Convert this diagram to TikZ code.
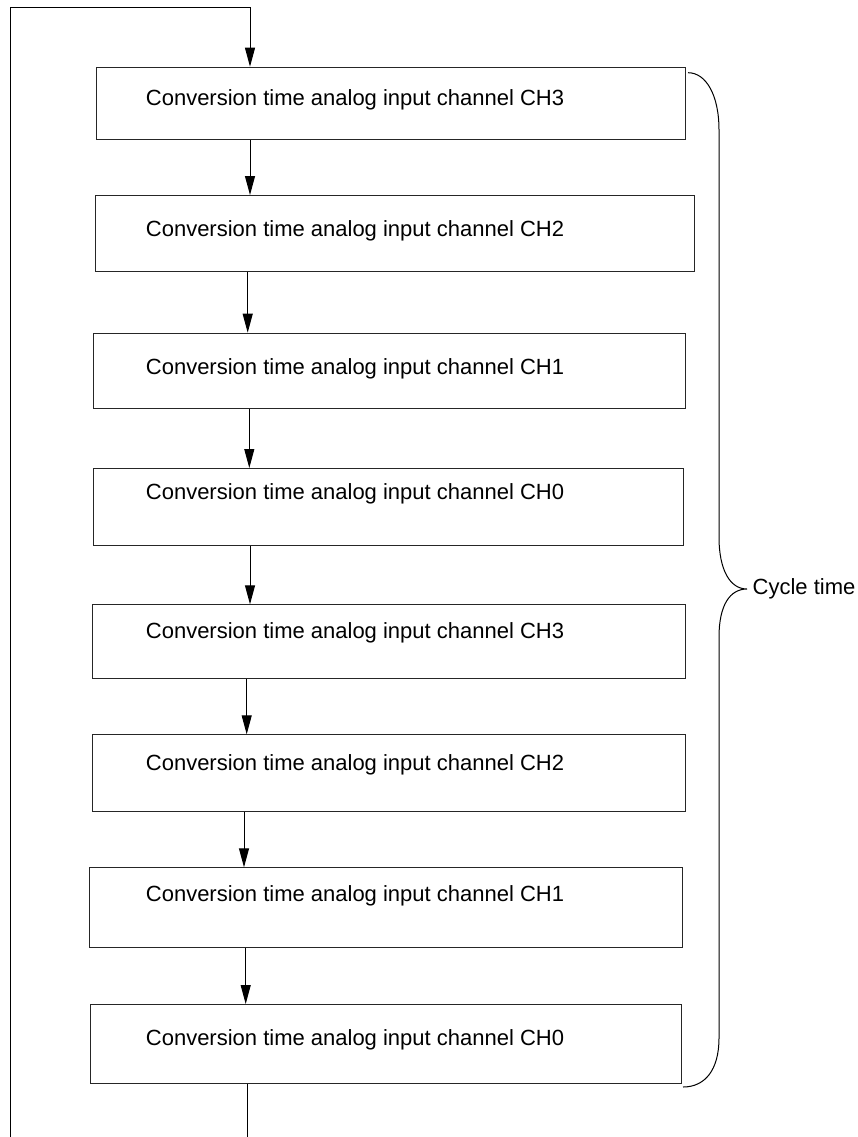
\documentclass[tikz,border=0pt]{standalone}
\usepackage{fontspec}
\setmainfont{Liberation Sans}
\usetikzlibrary{arrows.meta}
\begin{document}
\begin{tikzpicture}[x=1pt,y=-1pt,
  box/.style={draw=black!85, line width=1pt, inner sep=0pt, anchor=north west, rectangle},
  lbl/.style={anchor=base west, inner sep=0pt, font=\fontsize{22}{26}\selectfont},
  arr/.style={draw=black, line width=1pt, -{Triangle[length=19pt,width=10pt]}},
  ln/.style={draw=black, line width=1pt}]
\useasboundingbox (0,0) rectangle (857,1137);
% boxes
\node[box, minimum width=589.3pt, minimum height=72.3pt] (b1) at (95.7,66.7) {};
\node[box, minimum width=599pt,   minimum height=75.7pt] (b2) at (95,195) {};
\node[box, minimum width=592.3pt, minimum height=75.6pt] (b3) at (92.7,332.7) {};
\node[box, minimum width=590.6pt, minimum height=77pt]   (b4) at (92.7,468) {};
\node[box, minimum width=593pt,   minimum height=74pt]   (b5) at (92,604.3) {};
\node[box, minimum width=593pt,   minimum height=76.4pt] (b6) at (92,734.3) {};
\node[box, minimum width=592.4pt, minimum height=79.4pt] (b7) at (89.3,867.3) {};
\node[box, minimum width=591pt,   minimum height=78.7pt] (b8) at (90,1004) {};
% texts
\node[lbl] (t1) at (145.7,106)   {Conversion time analog input channel CH3};
\node[lbl] (t2) at (145.7,236.7) {Conversion time analog input channel CH2};
\node[lbl] (t3) at (145.7,374)   {Conversion time analog input channel CH1};
\node[lbl] (t4) at (145.7,499)   {Conversion time analog input channel CH0};
\node[lbl] (t5) at (145.7,638.3) {Conversion time analog input channel CH3};
\node[lbl] (t6) at (145.7,770)   {Conversion time analog input channel CH2};
\node[lbl] (t7) at (145.7,901.7) {Conversion time analog input channel CH1};
\node[lbl] (t8) at (145.7,1045)  {Conversion time analog input channel CH0};
% x positions of connectors
\coordinate (x12) at (250,0);
\coordinate (x23) at (247.7,0);
\coordinate (x34) at (249.3,0);
\coordinate (x45) at (250,0);
\coordinate (x56) at (246.7,0);
\coordinate (x67) at (244,0);
\coordinate (x78) at (245.7,0);
% loop
\coordinate (loopBL) at (10,1137);
\coordinate (loopTR) at (250,7.5);
\coordinate (endB) at (247.3,1137);
\draw[arr] (loopBL) |- (loopTR) -- (b1.north -| loopTR);
\draw[arr] (b1.south -| x12) -- (b2.north -| x12);
\draw[arr] (b2.south -| x23) -- (b3.north -| x23);
\draw[arr] (b3.south -| x34) -- (b4.north -| x34);
\draw[arr] (b4.south -| x45) -- (b5.north -| x45);
\draw[arr] (b5.south -| x56) -- (b6.north -| x56);
\draw[arr] (b6.south -| x67) -- (b7.north -| x67);
\draw[arr] (b7.south -| x78) -- (b8.north -| x78);
\draw[ln] (b8.south -| endB) -- (endB);
% brace
\draw[ln] (688,72.7) .. controls (706,72.7) and (719,95) .. (719,130)
  -- (719,537) .. controls (719,570) and (730,589) .. (747,589)
  .. controls (730,589) and (719,605) .. (719,637)
  -- (719,1038) .. controls (719,1070) and (705,1087) .. (683,1087);
\node[lbl] (cyc) at (752.5,594) {Cycle time};
\end{tikzpicture}
\end{document}
